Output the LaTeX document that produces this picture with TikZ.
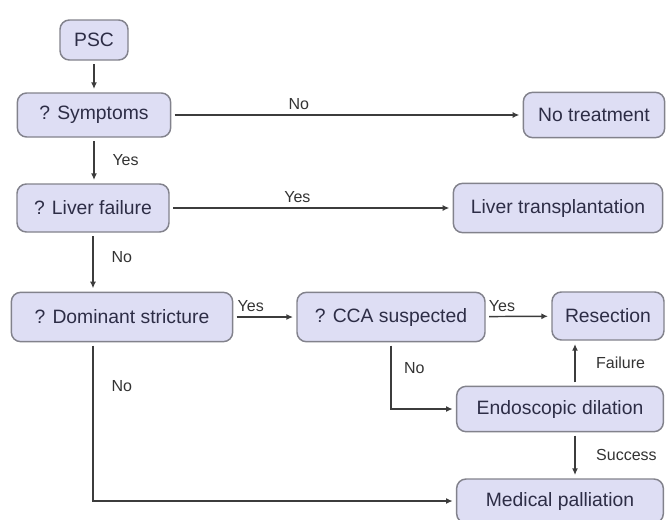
\documentclass[tikz,border=0pt]{standalone}
\usepackage{fontspec}
\setmainfont{Liberation Sans}
\usetikzlibrary{arrows.meta, positioning}

\definecolor{boxfill}{RGB}{222,222,244}
\definecolor{boxline}{RGB}{130,130,140}
\definecolor{boxtext}{RGB}{45,45,70}
\definecolor{wire}{RGB}{60,60,60}

\begin{document}
\begin{tikzpicture}[x=0.75pt, y=-0.75pt,
  stage/.style={draw=boxline, line width=1.1pt, rounded corners=7pt, fill=boxfill,
    text=boxtext, font=\fontsize{14.5}{16}\selectfont, inner sep=2pt, outer sep=3pt},
  lbl/.style={font=\fontsize{12}{13}\selectfont, text=black!80},
  flow/.style={draw=wire, line width=1.1pt, -{Latex[length=5pt, width=4.5pt]}}]
  \useasboundingbox (0,0) rectangle (667,519);
  \clip (0,0) rectangle (667,519);

  % left column: questions
  \node[stage, minimum width=51pt, minimum height=30pt] (psc) at (94,40) {PSC};
  \node[stage, minimum width=115pt, minimum height=33pt] (symp) at (94,115) {? Symptoms};
  \node[stage, minimum width=114pt, minimum height=36pt] (liver) at (93,208) {? Liver failure};
  \node[stage, minimum width=166pt, minimum height=37pt] (stric) at (122,317) {? Dominant stricture};
  \node[stage, minimum width=141pt, minimum height=37pt] (cca) at (391,317) {? CCA suspected};

  % right column: outcomes
  \node[stage, minimum width=106pt, minimum height=34pt] (notreat) at (594,115) {No treatment};
  \node[stage, minimum width=157pt, minimum height=37pt] (transpl) at (558,208) {Liver transplantation};
  \node[stage, minimum width=84pt, minimum height=36pt] (resect) at (608,316) {Resection};
  \node[stage, minimum width=155pt, minimum height=34pt] (endo) at (560,409) {Endoscopic dilation};
  \node[stage, minimum width=155pt, minimum height=33pt] (palli) at (560,501) {Medical palliation};
  \coordinate (rcol) at (575,0);

  \draw[flow] (psc) -- (symp);
  \draw[flow] (symp) -- (notreat) node[lbl, above, pos=0.36] {No};
  \draw[flow] (symp) -- (liver.north -| symp) node[lbl, right=10pt, midway] {Yes};
  \draw[flow] (liver) -- (transpl) node[lbl, above, pos=0.45] {Yes};
  \draw[flow] (liver.south) -- (liver.south |- stric.north) node[lbl, right=10pt, pos=0.4] {No};
  \draw[flow] (stric) -- (cca) node[lbl, above, pos=0.25] {Yes};
  \draw[flow] (cca) -- (resect) node[lbl, above, pos=0.22] {Yes};
  \draw[flow] (cca.south) |- (endo) node[lbl, right=6pt, pos=0.18] {No};
  \draw[flow] (endo.north -| rcol) -- (resect.south -| rcol) node[lbl, right=12pt, midway] {Failure};
  \draw[flow] (endo.south -| rcol) -- (palli.north -| rcol) node[lbl, right=12pt, midway] {Success};
  \draw[flow] (stric.south -| liver.south) |- (palli) node[lbl, right=10pt, pos=0.13] {No};
\end{tikzpicture}
\end{document}
